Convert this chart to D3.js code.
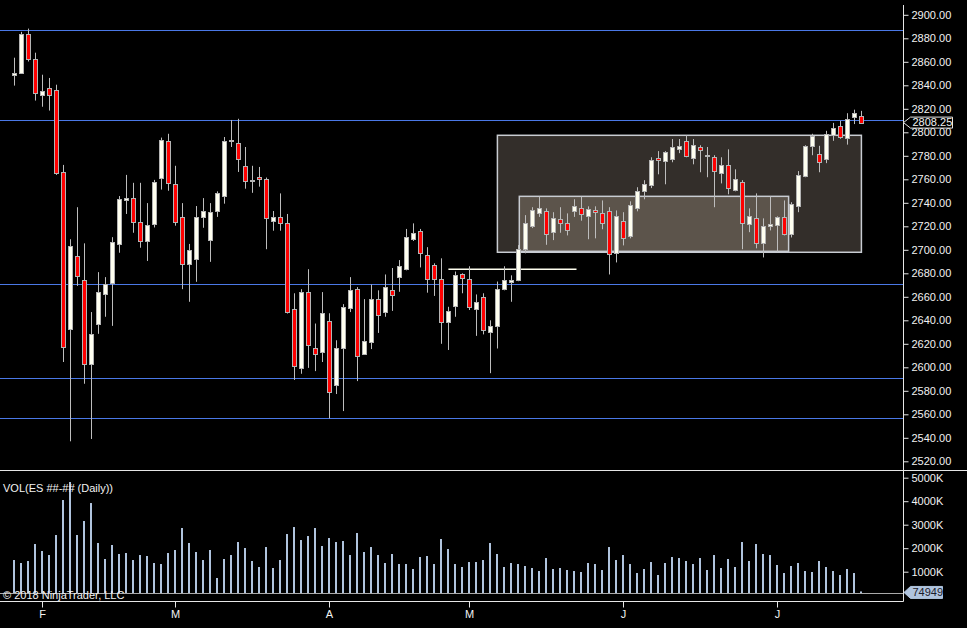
<!DOCTYPE html>
<meta charset="utf-8">
<script src="https://d3js.org/d3.v7.min.js"></script>
<style>
    body { margin: 0; background: #000; overflow: hidden; }
</style>
<div id="my_dataviz"></div>
<script>

    // daily ES bars (index 0 = first bar on the left)
    const openPrices = [2849.0, 2851.0, 2884.0, 2862.5, 2832.5, 2837.75, 2836.0, 2766.0, 2632.5, 2694.5,
        2674.0, 2602.25, 2637.25, 2662.0, 2671.5, 2704.5, 2742.5, 2744.0, 2723.5, 2706.75,
        2721.75, 2760.5, 2792.5, 2755.75, 2727.5, 2687.5, 2691.5, 2727.25, 2708.5, 2732.5,
        2746.0, 2792.5, 2790.75, 2771.0, 2758.5, 2761.75, 2760.25, 2724.75, 2727.5, 2722.5,
        2650.0, 2599.0, 2663.75, 2616.75, 2613.0, 2639.0, 2585.25, 2616.0, 2650.0, 2667.0,
        2611.75, 2622.0, 2658.5, 2646.5, 2665.5, 2677.0, 2683.0, 2708.5, 2715.75, 2696.0,
        2686.75, 2675.5, 2638.5, 2651.5, 2679.0, 2674.75, 2649.75, 2659.5, 2630.5, 2635.5,
        2666.25, 2672.25, 2674.0, 2700.5, 2720.0, 2730.75, 2732.75, 2714.5, 2726.0, 2722.5,
        2732.75, 2735.25, 2728.5, 2733.5, 2731.0, 2732.75, 2697.0, 2724.25, 2711.5, 2735.25,
        2749.75, 2755.0, 2778.0, 2775.5, 2777.0, 2785.5, 2792.5, 2778.0, 2787.5, 2779.75,
        2778.75, 2765.25, 2772.0, 2750.75, 2757.5, 2721.75, 2726.75, 2705.5, 2720.0, 2720.75,
        2727.5, 2713.0, 2737.0, 2762.5, 2788.0, 2781.5, 2777.0, 2797.75, 2805.25, 2795.5,
        2813.0, 2814.25];
    const highPrices = [2863.5, 2885.5, 2888.25, 2867.75, 2849.0, 2846.25, 2840.5, 2772.25, 2709.0, 2736.25,
        2705.5, 2647.0, 2681.0, 2676.75, 2710.75, 2745.75, 2763.75, 2757.0, 2757.0, 2739.75,
        2759.5, 2795.5, 2798.75, 2771.5, 2739.75, 2705.0, 2737.25, 2744.0, 2739.75, 2749.75,
        2796.0, 2810.5, 2811.5, 2787.5, 2771.5, 2770.5, 2761.5, 2733.0, 2748.0, 2730.5,
        2663.0, 2666.5, 2683.5, 2637.25, 2664.0, 2646.0, 2623.0, 2653.75, 2676.75, 2668.25,
        2658.0, 2670.5, 2665.5, 2679.0, 2684.5, 2691.25, 2717.75, 2722.5, 2717.75, 2702.25,
        2688.5, 2692.75, 2651.5, 2681.5, 2680.0, 2686.0, 2662.0, 2663.0, 2640.0, 2673.0,
        2686.0, 2678.25, 2704.0, 2729.5, 2736.25, 2745.25, 2735.25, 2732.0, 2736.25, 2731.0,
        2743.0, 2745.25, 2737.0, 2737.0, 2742.0, 2736.25, 2733.5, 2732.0, 2741.25, 2753.25,
        2759.25, 2778.75, 2784.0, 2784.0, 2794.25, 2794.25, 2797.5, 2794.25, 2789.0, 2787.5,
        2780.5, 2778.75, 2785.5, 2768.5, 2759.25, 2735.25, 2748.0, 2726.75, 2745.5, 2728.5,
        2742.0, 2740.5, 2767.0, 2789.0, 2798.75, 2788.5, 2801.25, 2808.0, 2809.75, 2816.25,
        2819.25, 2818.25];
    const lowPrices = [2839.75, 2850.5, 2860.25, 2827.0, 2821.75, 2818.5, 2763.75, 2604.5, 2537.0, 2669.25,
        2586.0, 2539.0, 2628.5, 2643.0, 2635.25, 2697.5, 2730.5, 2714.5, 2701.75, 2690.5,
        2719.0, 2751.25, 2750.25, 2720.5, 2666.5, 2655.75, 2672.75, 2718.75, 2689.75, 2728.0,
        2739.25, 2787.5, 2766.25, 2752.0, 2748.5, 2753.75, 2700.5, 2716.25, 2716.25, 2645.75,
        2589.25, 2594.5, 2599.5, 2596.75, 2604.5, 2556.5, 2577.25, 2562.75, 2647.0, 2588.25,
        2611.75, 2615.5, 2629.25, 2643.0, 2648.0, 2664.25, 2682.5, 2707.5, 2685.0, 2663.5,
        2660.75, 2620.0, 2614.75, 2643.0, 2663.0, 2648.75, 2626.75, 2628.0, 2595.0, 2616.0,
        2665.5, 2655.75, 2673.25, 2697.0, 2718.5, 2728.0, 2704.25, 2708.25, 2714.5, 2712.25,
        2728.0, 2724.75, 2709.0, 2709.75, 2717.5, 2679.0, 2689.25, 2703.75, 2709.75, 2732.75,
        2743.0, 2752.5, 2764.25, 2755.75, 2774.5, 2782.25, 2778.75, 2772.75, 2766.0, 2761.75,
        2736.25, 2756.5, 2747.25, 2749.75, 2700.5, 2715.0, 2701.25, 2693.5, 2716.5, 2698.5,
        2712.25, 2710.5, 2732.0, 2761.75, 2780.5, 2766.0, 2773.75, 2792.75, 2794.5, 2789.5,
        2807.0, 2807.5];
    const closePrices = [2850.5, 2884.0, 2862.5, 2833.5, 2835.5, 2831.5, 2765.75, 2616.75, 2703.25, 2677.25,
        2602.25, 2628.0, 2664.5, 2670.5, 2706.25, 2743.0, 2744.0, 2723.5, 2707.75, 2720.75,
        2757.5, 2793.25, 2756.5, 2723.5, 2687.5, 2699.5, 2727.5, 2732.75, 2732.0, 2748.0,
        2792.5, 2793.5, 2777.0, 2758.0, 2759.5, 2759.75, 2726.75, 2728.0, 2722.5, 2647.0,
        2601.5, 2663.75, 2619.0, 2611.75, 2646.5, 2578.5, 2616.75, 2651.0, 2665.5, 2610.0,
        2622.75, 2658.5, 2645.0, 2668.0, 2661.0, 2686.0, 2710.5, 2714.0, 2697.0, 2675.25,
        2674.5, 2638.5, 2648.25, 2678.25, 2675.5, 2650.5, 2656.0, 2631.0, 2635.5, 2667.0,
        2674.0, 2674.0, 2700.5, 2722.5, 2733.5, 2735.25, 2713.0, 2726.75, 2722.5, 2716.5,
        2737.0, 2730.25, 2734.5, 2732.0, 2722.5, 2696.0, 2728.5, 2709.75, 2738.0, 2749.75,
        2755.75, 2776.25, 2776.25, 2783.0, 2787.5, 2788.25, 2779.75, 2789.0, 2784.75, 2780.5,
        2767.0, 2772.0, 2752.5, 2760.0, 2722.5, 2728.5, 2705.5, 2720.0, 2721.75, 2727.5,
        2713.0, 2738.75, 2763.5, 2788.25, 2796.75, 2774.5, 2798.5, 2803.75, 2796.0, 2811.25,
        2816.25, 2808.25];
    // volume in thousands of contracts
    const volumeK = [1497, 1370, 1455, 2178, 1880, 1710, 2561, 4050, 4816, 2561,
        3157, 3922, 2221, 1540, 2136, 1753, 1795, 1497, 1710, 1668,
        1370, 1327, 1795, 1923, 2859, 2221, 1838, 1497, 1923, 732,
        1540, 1710, 2263, 2008, 1455, 1200, 2050, 1157, 1497, 2603,
        2901, 2348, 2518, 2859, 2093, 2433, 2263, 2306, 1710, 2646,
        1838, 2050, 1710, 1370, 1753, 1327, 1327, 1115, 1625, 1668,
        1327, 2391, 1965, 1327, 1200, 1412, 1412, 1497, 2221, 1753,
        1200, 1370, 1327, 1242, 1157, 1029, 1582, 1115, 1157, 1072,
        1029, 987, 1370, 1327, 1072, 2050, 1497, 1710, 1327, 944,
        1115, 1412, 859, 1370, 1625, 1582, 1455, 1327, 1582, 1072,
        1710, 1157, 1540, 1200, 2263, 1455, 2178, 1753, 1710, 1285,
        944, 1242, 1370, 1029, 987, 1455, 1200, 1029, 859, 1115,
        944, 74.949];

    const monthStartIndex = [4, 23, 45, 65, 87, 109];
    const monthLabels = ["F", "M", "A", "M", "J", "J"];
    const priceTicks = [2520, 2540, 2560, 2580, 2600, 2620, 2640, 2660, 2680, 2700,
        2720, 2740, 2760, 2780, 2800, 2820, 2840, 2860, 2880, 2900];
    const volumeTicks = [1000, 2000, 3000, 4000, 5000];

    // drawn objects: horizontal levels, the two boxes, the short white line
    const levelPrices = [2886.75, 2810.5, 2670.5, 2590.5, 2556.5];
    const boxFrom = [69.1, 72.23];
    const boxTo = [121.1, 110.7];
    const boxLow = [2697.9, 2698.7];
    const boxHigh = [2797.45, 2745.5];
    const shortLine = { from: 62.1, to: 80.4, price: 2683.4 };

    const width = 967;
    const height = 628;
    const axisX = 903.5;
    const paneSplit = 470.5;
    const timeAxisY = 601.5;

    const svg = d3.select("#my_dataviz")
        .append("svg")
        .attr("width", width)
        .attr("height", height)
        .attr("style", "display:block; font: 11px Arial, 'Liberation Sans', sans-serif;");

    svg.append("rect").attr("width", width).attr("height", height).attr("fill", "#000");

    const bars = openPrices.map((o, i) => ({
        i: i, open: o, high: highPrices[i], low: lowPrices[i], close: closePrices[i], vol: volumeK[i]
    }));

    const x = d3.scaleLinear()
        .domain([0, bars.length - 1])
        .range([13.7, 860.7]);
    const xr = d => Math.round(x(d));

    const y = d3.scaleLinear()
        .domain([2520, 2900])
        .range([461.3, 14.8]);

    const yv = d3.scaleLinear()
        .domain([0, 5000])
        .range([595.2, 477.7]);

    // boxes
    const boxFill = ["#332e2a", "#5c544b"];
    svg.append("g")
        .selectAll("rect")
        .data(boxFrom)
        .join("rect")
        .attr("x", (d, k) => x(d))
        .attr("y", (d, k) => y(boxHigh[k]))
        .attr("width", (d, k) => x(boxTo[k]) - x(d))
        .attr("height", (d, k) => y(boxLow[k]) - y(boxHigh[k]))
        .attr("fill", (d, k) => boxFill[k])
        .attr("stroke", "#c8ccd2")
        .attr("stroke-width", 1.5);

    // horizontal levels
    svg.append("g")
        .selectAll("line")
        .data(levelPrices)
        .join("line")
        .attr("x1", 0)
        .attr("x2", axisX)
        .attr("y1", d => Math.round(y(d)) + 0.5)
        .attr("y2", d => Math.round(y(d)) + 0.5)
        .attr("stroke", "#4a78e6")
        .attr("stroke-width", 1);

    svg.append("line")
        .attr("x1", x(shortLine.from))
        .attr("x2", x(shortLine.to))
        .attr("y1", y(shortLine.price))
        .attr("y2", y(shortLine.price))
        .attr("stroke", "#fffff0")
        .attr("stroke-width", 1.5);

    // candles
    const candle = svg.append("g")
        .selectAll("g")
        .data(bars)
        .join("g");

    candle.append("line")
        .attr("x1", d => xr(d.i) + 0.5)
        .attr("x2", d => xr(d.i) + 0.5)
        .attr("y1", d => y(d.high))
        .attr("y2", d => y(d.low))
        .attr("stroke", "#bdbdbd")
        .attr("stroke-width", 1);

    candle.append("rect")
        .attr("x", d => xr(d.i) - 1.5)
        .attr("width", 4)
        .attr("y", d => Math.round(y(Math.max(d.open, d.close))) + 0.5)
        .attr("height", d => Math.max(1, Math.round(Math.abs(y(d.open) - y(d.close)))))
        .attr("fill", d => d.close >= d.open ? "#fffff0" : "#ff0000")
        .attr("stroke", "#b4b4b4")
        .attr("stroke-width", 1);

    // volume
    const volMin = d3.min(volumeK);
    const volBase = yv(volMin);

    svg.append("g")
        .selectAll("rect")
        .data(bars)
        .join("rect")
        .attr("x", d => xr(d.i) - 1)
        .attr("width", 2)
        .attr("y", d => Math.min(yv(d.vol), volBase - 2))
        .attr("height", d => Math.max(2, volBase - yv(d.vol)))
        .attr("fill", "#b0c4de");

    svg.append("line")
        .attr("x1", 0).attr("x2", axisX)
        .attr("y1", Math.round(volBase) + 0.5).attr("y2", Math.round(volBase) + 0.5)
        .attr("stroke", "#a9a9a9");

    // frame lines
    svg.append("line")
        .attr("x1", 0).attr("x2", width)
        .attr("y1", paneSplit).attr("y2", paneSplit)
        .attr("stroke", "#e6e6e6");
    svg.append("line")
        .attr("x1", 0).attr("x2", axisX)
        .attr("y1", timeAxisY).attr("y2", timeAxisY)
        .attr("stroke", "#e6e6e6");
    svg.append("line")
        .attr("x1", axisX).attr("x2", axisX)
        .attr("y1", 5).attr("y2", timeAxisY)
        .attr("stroke", "#e6e6e6");

    // price axis
    svg.append("g")
        .attr("transform", `translate(${axisX},0)`)
        .call(d3.axisRight(y).tickValues(priceTicks).tickFormat(d3.format(".2f")).tickSize(5).tickSizeOuter(0))
        .call(g => g.select(".domain").remove())
        .call(g => g.selectAll(".tick line").attr("stroke", "#e6e6e6"))
        .call(g => g.selectAll(".tick text").attr("fill", "#f2f2f2").attr("font-size", 11).attr("font-family", "Arial, 'Liberation Sans', sans-serif"));

    // volume axis
    svg.append("g")
        .attr("transform", `translate(${axisX},0)`)
        .call(d3.axisRight(yv).tickValues(volumeTicks).tickFormat(d => d + "K").tickSize(5).tickSizeOuter(0))
        .call(g => g.select(".domain").remove())
        .call(g => g.selectAll(".tick line").attr("stroke", "#e6e6e6"))
        .call(g => g.selectAll(".tick text").attr("fill", "#f2f2f2").attr("font-size", 11).attr("font-family", "Arial, 'Liberation Sans', sans-serif"));

    // time axis
    const xRound = d3.scaleLinear().domain(x.domain()).range(x.range()).interpolate(d3.interpolateRound);
    svg.append("g")
        .attr("transform", `translate(0,${timeAxisY})`)
        .call(d3.axisBottom(xRound).tickValues(monthStartIndex).tickFormat((d, k) => monthLabels[k]).tickSize(6).tickSizeOuter(0))
        .call(g => g.select(".domain").remove())
        .call(g => g.selectAll(".tick line").attr("stroke", "#e6e6e6"))
        .call(g => g.selectAll(".tick text").attr("fill", "#f2f2f2").attr("font-size", 11).attr("font-family", "Arial, 'Liberation Sans', sans-serif"));

    // last price marker
    const lastClose = closePrices[closePrices.length - 1];
    const py = y(lastClose);
    svg.append("path")
        .attr("d", `M${axisX},${py} L910.5,${py - 5.5} L952.5,${py - 5.5} L952.5,${py + 5.5} L910.5,${py + 5.5} Z`)
        .attr("fill", "#000")
        .attr("stroke", "#e6e6e6");
    svg.append("text")
        .attr("x", 912.5)
        .attr("y", py)
        .attr("dy", "0.35em")
        .attr("fill", "#f2f2f2")
        .text(d3.format(".2f")(lastClose));

    // last volume marker
    const lastVol = volumeK[volumeK.length - 1];
    const vy = yv(lastVol) - 1;
    svg.append("path")
        .attr("d", `M${axisX + 0.5},${vy} L910.5,${vy - 6} L942.5,${vy - 6} L942.5,${vy + 6} L910.5,${vy + 6} Z`)
        .attr("fill", "#b0c4de")
        .attr("stroke", "#b0c4de");
    svg.append("text")
        .attr("x", 912.5)
        .attr("y", vy)
        .attr("dy", "0.35em")
        .attr("fill", "#1b1b2b")
        .text(Math.round(lastVol * 1000));

    // labels
    svg.append("text")
        .attr("x", 3)
        .attr("y", 492)
        .attr("fill", "#f2f2f2")
        .text("VOL(ES ##-## (Daily))");

    svg.append("text")
        .attr("x", 3)
        .attr("y", 599)
        .attr("fill", "#f2f2f2")
        .text("© 2018 NinjaTrader, LLC");

</script>
